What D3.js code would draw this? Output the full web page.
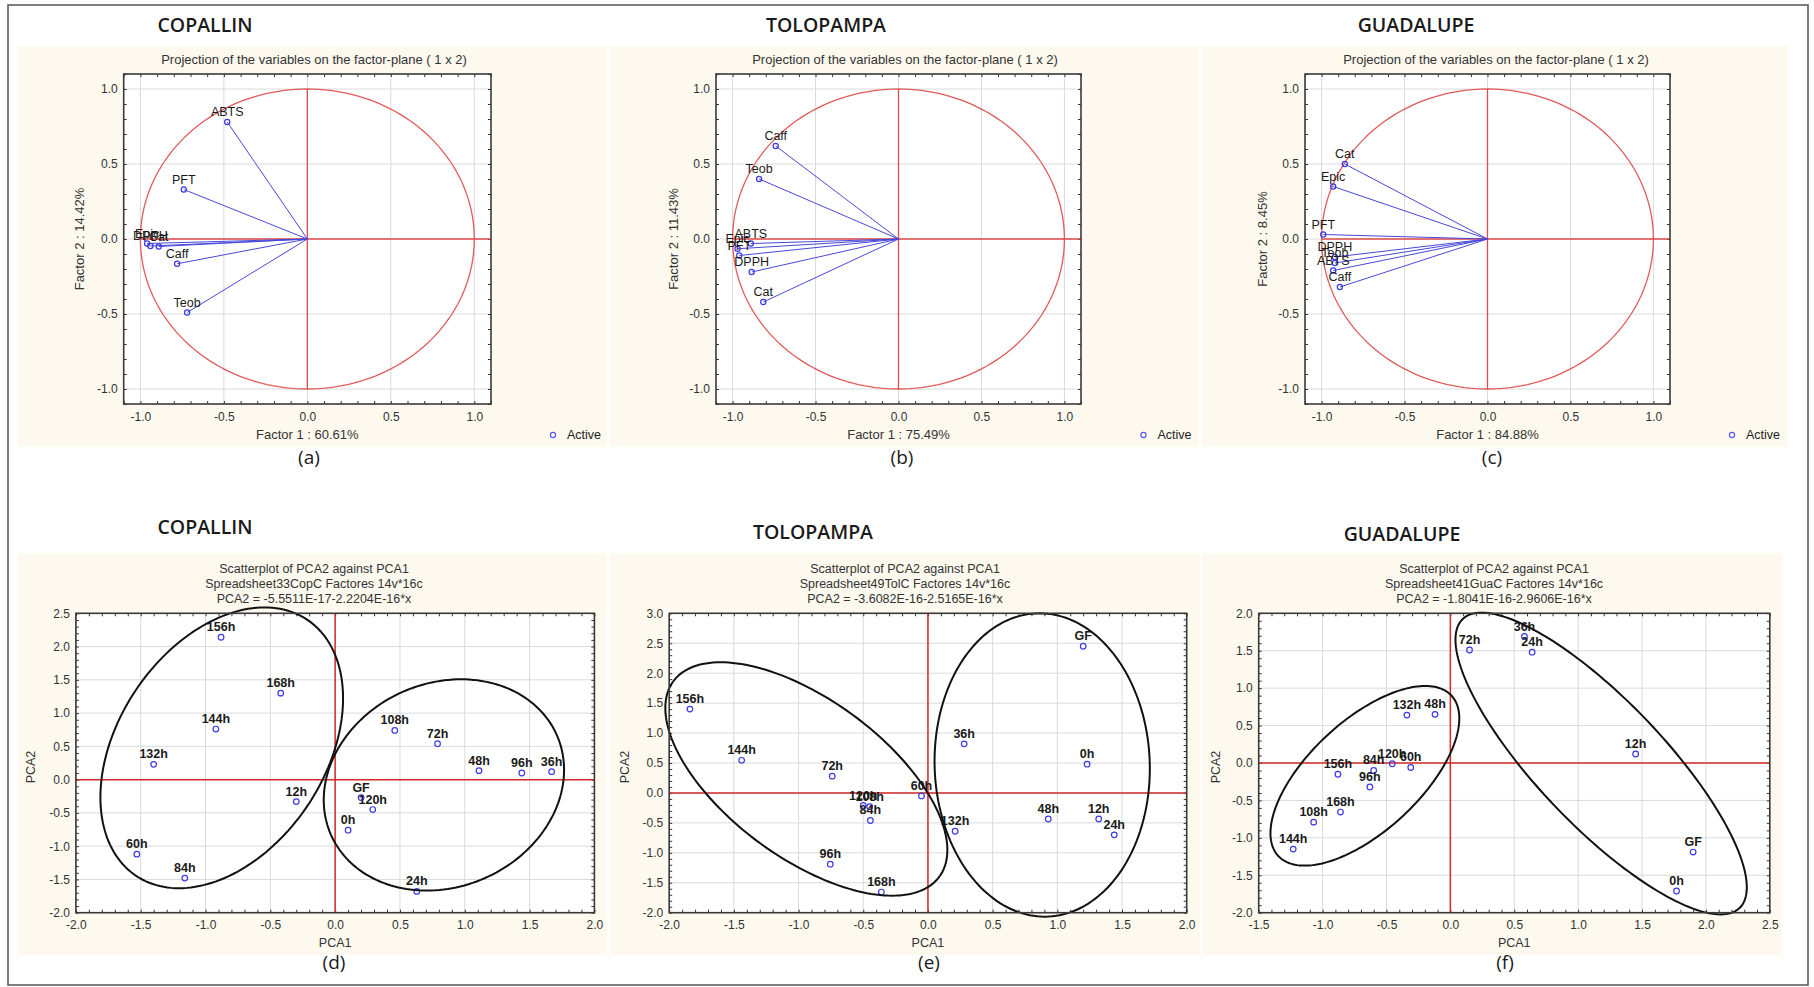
<!DOCTYPE html>
<html>
<head>
<meta charset="utf-8">
<script src="https://cdn.jsdelivr.net/npm/d3@7"></script>
<style>
body { margin: 0; background: #fff; }
svg { display: block; font-family: "Liberation Sans", Arial, sans-serif; }
</style>
</head>
<body>
<svg id="fig" width="1814" height="987"></svg>
<script>
// ---- loadings (projection of the variables on the factor-plane) ----
const copVars = ["ABTS", "PFT", "Epic", "DPPH", "Cat", "Caff", "Teob"];
const copF1 = [-0.48, -0.74, -0.96, -0.94, -0.89, -0.78, -0.72];
const copF2 = [0.78, 0.33, -0.03, -0.047, -0.05, -0.165, -0.49];

const tolVars = ["Caff", "Teob", "ABTS", "Epic", "PFT", "DPPH", "Cat"];
const tolF1 = [-0.74, -0.84, -0.89, -0.97, -0.96, -0.885, -0.815];
const tolF2 = [0.62, 0.40, -0.03, -0.065, -0.11, -0.22, -0.42];

const guaVars = ["Cat", "Epic", "PFT", "DPPH", "Teob", "ABTS", "Caff"];
const guaF1 = [-0.86, -0.93, -0.99, -0.92, -0.92, -0.93, -0.89];
const guaF2 = [0.50, 0.35, 0.03, -0.12, -0.16, -0.21, -0.32];

const loadTicks = [-1.0, -0.5, 0.0, 0.5, 1.0];

// ---- scores (scatterplot of PCA2 against PCA1) ----
const samples = ["0h", "12h", "24h", "36h", "48h", "60h", "72h", "84h", "96h", "108h", "120h", "132h", "144h", "156h", "168h", "GF"];

const copPCA1 = [0.10, -0.30, 0.63, 1.67, 1.11, -1.53, 0.79, -1.16, 1.44, 0.46, 0.29, -1.40, -0.92, -0.88, -0.42, 0.20];
const copPCA2 = [-0.76, -0.33, -1.68, 0.12, 0.135, -1.12, 0.54, -1.48, 0.10, 0.74, -0.45, 0.23, 0.76, 2.14, 1.30, -0.27];

const tolPCA1 = [1.23, 1.32, 1.44, 0.28, 0.93, -0.05, -0.74, -0.445, -0.755, -0.45, -0.50, 0.21, -1.44, -1.84, -0.36, 1.20];
const tolPCA2 = [0.48, -0.435, -0.70, 0.82, -0.435, -0.05, 0.28, -0.46, -1.19, -0.23, -0.21, -0.64, 0.545, 1.40, -1.655, 2.45];

const guaPCA1 = [1.77, 1.45, 0.64, 0.58, -0.12, -0.31, 0.15, -0.60, -0.63, -1.07, -0.455, -0.34, -1.23, -0.88, -0.86, 1.90];
const guaPCA2 = [-1.71, 0.12, 1.48, 1.69, 0.65, -0.06, 1.51, -0.10, -0.32, -0.79, -0.01, 0.64, -1.15, -0.15, -0.655, -1.19];

// cluster ellipses: [centre x, centre y, half width, half height, x-shift of top point]
const copEllipses = [[-0.875, 0.478, 0.936, 2.11, 0.33], [0.839, -0.08, 0.927, 1.588, 0.132]];
const tolEllipses = [[-0.94, 0.233, 1.09, 1.949, -0.663], [0.883, 0.467, 0.832, 2.533, -0.02]];
const guaEllipses = [[-0.669, -0.171, 0.739, 1.20, 0.472], [1.18, -0.007, 1.14, 2.016, -0.935]];

const svg = d3.select("#fig");
const fmt = d => d.toFixed(1);
const cream = "#fdf9ee";

// outer border
svg.append("rect").attr("x", 8).attr("y", 5).attr("width", 1800).attr("height", 980)
	.attr("fill", "none").attr("stroke", "#555").attr("stroke-width", 1.5);

function frameAndTicks(g, x, y, xTicks, yTicks, xMinor, yMinor) {
	const [x0, x1] = x.range();
	const [y1, y0] = y.range();

	// grid
	g.append("g").selectAll("line").data(xTicks).join("line")
		.attr("x1", d => x(d)).attr("x2", d => x(d)).attr("y1", y0).attr("y2", y1)
		.attr("stroke", "#dadada").attr("stroke-width", 1);
	g.append("g").selectAll("line").data(yTicks).join("line")
		.attr("y1", d => y(d)).attr("y2", d => y(d)).attr("x1", x0).attr("x2", x1)
		.attr("stroke", "#dadada").attr("stroke-width", 1);

	// inner minor ticks on all sides
	const minor = (axis, tr) => {
		const a = g.append("g").attr("transform", tr).call(axis);
		a.select(".domain").remove();
		a.selectAll("line").attr("stroke", "#333");
	};
	minor(d3.axisBottom(x).tickValues(xMinor).tickSize(-3).tickFormat(""), `translate(0,${y1})`);
	minor(d3.axisTop(x).tickValues(xMinor).tickSize(-3).tickFormat(""), `translate(0,${y0})`);
	minor(d3.axisLeft(y).tickValues(yMinor).tickSize(-3).tickFormat(""), `translate(${x0},0)`);
	minor(d3.axisRight(y).tickValues(yMinor).tickSize(-3).tickFormat(""), `translate(${x1},0)`);

	// tick labels
	const lab = (axis, tr) => {
		const a = g.append("g").attr("transform", tr).call(axis);
		a.select(".domain").remove();
		a.selectAll("line").remove();
		a.selectAll("text").attr("font-size", 12).attr("fill", "#333")
			.attr("font-family", "Liberation Sans, Arial, sans-serif");
	};
	lab(d3.axisBottom(x).tickValues(xTicks).tickSize(0).tickPadding(8).tickFormat(fmt), `translate(0,${y1})`);
	lab(d3.axisLeft(y).tickValues(yTicks).tickSize(0).tickPadding(6).tickFormat(fmt), `translate(${x0},0)`);
}

function frameRect(g, x, y) {
	const [x0, x1] = x.range();
	const [y1, y0] = y.range();
	g.append("rect").attr("x", x0).attr("y", y0).attr("width", x1 - x0).attr("height", y1 - y0)
		.attr("fill", "none").attr("stroke", "#3a3a3a").attr("stroke-width", 1.6);
}

function drawLoadings(p) {
	const g = svg.append("g");
	g.append("rect").attr("x", p.creamX[0]).attr("y", 46).attr("width", p.creamX[1] - p.creamX[0]).attr("height", 401)
		.attr("fill", cream);
	g.append("text").attr("x", p.titleX).attr("y", 32).attr("text-anchor", "middle")
		.attr("font-family", "Open Sans, sans-serif").attr("font-weight", 600).attr("font-size", 19.5)
		.attr("fill", "#1a1a1a").text(p.title);
	g.append("text").attr("x", p.subX).attr("y", 64).attr("text-anchor", "middle")
		.attr("font-size", 13).attr("fill", "#333")
		.text("Projection of the variables on the factor-plane (  1 x   2)");

	const x = d3.scaleLinear().domain([-1.1, 1.1]).range(p.frameX);
	const y = d3.scaleLinear().domain([-1.1, 1.1]).range([404, 74]);
	g.append("rect").attr("x", p.frameX[0]).attr("y", 74).attr("width", p.frameX[1] - p.frameX[0]).attr("height", 330)
		.attr("fill", "#fff");
	const minorT = d3.range(-11, 12).map(i => i / 10);
	frameAndTicks(g, x, y, loadTicks, loadTicks, minorT, minorT);

	// unit circle
	const circ = d3.range(0, 361, 2).map(a => [Math.cos(a * Math.PI / 180), Math.sin(a * Math.PI / 180)]);
	g.append("path").datum(circ)
		.attr("d", d3.line().x(d => x(d[0])).y(d => y(d[1])))
		.attr("fill", "none").attr("stroke", "#e05a5a").attr("stroke-width", 1.3);
	g.append("line").attr("x1", x(-1)).attr("x2", x(1.1)).attr("y1", y(0)).attr("y2", y(0))
		.attr("stroke", "#e04a4a").attr("stroke-width", 1.3);
	g.append("line").attr("x1", x(0)).attr("x2", x(0)).attr("y1", y(1)).attr("y2", y(-1))
		.attr("stroke", "#e04a4a").attr("stroke-width", 1.3);

	const pts = p.names.map((n, i) => ({ n: n, a: p.f1[i], b: p.f2[i] }));
	g.append("g").selectAll("line").data(pts).join("line")
		.attr("x1", x(0)).attr("y1", y(0)).attr("x2", d => x(d.a)).attr("y2", d => y(d.b))
		.attr("stroke", "#4848d8").attr("stroke-width", 1);
	g.append("g").selectAll("circle").data(pts).join("circle")
		.attr("cx", d => x(d.a)).attr("cy", d => y(d.b)).attr("r", 2.6)
		.attr("fill", "none").attr("stroke", "#3a3ae6").attr("stroke-width", 1.2);
	g.append("g").selectAll("text").data(pts).join("text")
		.attr("x", d => x(d.a)).attr("y", d => y(d.b) - 6).attr("text-anchor", "middle")
		.attr("font-size", 12.5).attr("fill", "#1a1a1a").text(d => d.n);

	frameRect(g, x, y);

	g.append("text").attr("x", (p.frameX[0] + p.frameX[1]) / 2).attr("y", 439).attr("text-anchor", "middle")
		.attr("font-size", 13).attr("fill", "#333").text(p.xLabel);
	g.append("text").attr("transform", `translate(${p.yLabelX},239) rotate(-90)`).attr("text-anchor", "middle")
		.attr("font-size", 13).attr("fill", "#333").text(p.yLabel);
	g.append("circle").attr("cx", p.activeX).attr("cy", 435).attr("r", 2.6)
		.attr("fill", "none").attr("stroke", "#5a5ae6").attr("stroke-width", 1.2);
	g.append("text").attr("x", p.activeX + 14).attr("y", 439).attr("font-size", 12.5).attr("fill", "#222").text("Active");
	g.append("text").attr("x", p.letterX).attr("y", 464).attr("text-anchor", "middle")
		.attr("font-family", "Open Sans, sans-serif").attr("font-size", 19).attr("fill", "#1a1a1a").text(p.letter);
}

function drawScores(p) {
	const g = svg.append("g");
	g.append("rect").attr("x", p.creamX[0]).attr("y", 553).attr("width", p.creamX[1] - p.creamX[0]).attr("height", 402)
		.attr("fill", cream);
	g.append("text").attr("x", p.titleX).attr("y", p.titleY).attr("text-anchor", "middle")
		.attr("font-family", "Open Sans, sans-serif").attr("font-weight", 600).attr("font-size", 19.5)
		.attr("fill", "#1a1a1a").text(p.title);
	p.sub.forEach((s, i) => {
		g.append("text").attr("x", p.subX).attr("y", 573 + i * 15).attr("text-anchor", "middle")
			.attr("font-size", 12.5).attr("fill", "#333").text(s);
	});

	const x = d3.scaleLinear().domain(p.xDomain).range(p.frameX);
	const y = d3.scaleLinear().domain(p.yDomain).range([912.7, 613.3]);
	g.append("rect").attr("x", p.frameX[0]).attr("y", 613.3).attr("width", p.frameX[1] - p.frameX[0]).attr("height", 299.4)
		.attr("fill", "#fff");
	const xt = d3.range(p.xDomain[0] * 2, p.xDomain[1] * 2 + 1).map(i => i / 2);
	const yt = d3.range(p.yDomain[0] * 2, p.yDomain[1] * 2 + 1).map(i => i / 2);
	const xm = d3.range(p.xDomain[0] * 10, p.xDomain[1] * 10 + 1).map(i => i / 10);
	const ym = d3.range(p.yDomain[0] * 10, p.yDomain[1] * 10 + 1).map(i => i / 10);
	frameAndTicks(g, x, y, xt, yt, xm, ym);

	g.append("line").attr("x1", x(p.xDomain[0])).attr("x2", x(p.xDomain[1])).attr("y1", y(0)).attr("y2", y(0))
		.attr("stroke", "#d42a2a").attr("stroke-width", 1.5);
	g.append("line").attr("x1", x(0)).attr("x2", x(0)).attr("y1", y(p.yDomain[0])).attr("y2", y(p.yDomain[1]))
		.attr("stroke", "#d42a2a").attr("stroke-width", 1.5);

	const pts = samples.map((n, i) => ({ n: n, a: p.pc1[i], b: p.pc2[i] }));
	g.append("g").selectAll("circle").data(pts).join("circle")
		.attr("cx", d => x(d.a)).attr("cy", d => y(d.b)).attr("r", 2.8)
		.attr("fill", "none").attr("stroke", "#3a3ae6").attr("stroke-width", 1.2);
	g.append("g").selectAll("text").data(pts).join("text")
		.attr("x", d => x(d.a)).attr("y", d => y(d.b) - 6).attr("text-anchor", "middle")
		.attr("font-size", 12.5).attr("font-weight", 600).attr("fill", "#1a1a1a").text(d => d.n);

	// ellipses: affine image of a circle defined in data units
	const ell = e => d3.range(0, 361, 2).map(a => {
		const t = a * Math.PI / 180;
		const s = Math.sqrt(e[2] * e[2] - e[4] * e[4]);
		return [e[0] + e[4] * Math.sin(t) + s * Math.cos(t), e[1] + e[3] * Math.sin(t)];
	});
	g.append("g").selectAll("path").data(p.ellipses).join("path")
		.attr("d", e => d3.line().x(d => x(d[0])).y(d => y(d[1]))(ell(e)) + "Z")
		.attr("fill", "none").attr("stroke", "#111").attr("stroke-width", 2);

	frameRect(g, x, y);

	g.append("text").attr("x", (p.frameX[0] + p.frameX[1]) / 2).attr("y", 947).attr("text-anchor", "middle")
		.attr("font-size", 12.5).attr("fill", "#333").text("PCA1");
	g.append("text").attr("transform", `translate(${p.yLabelX},767) rotate(-90)`).attr("text-anchor", "middle")
		.attr("font-size", 12.5).attr("fill", "#333").text("PCA2");
	g.append("text").attr("x", p.letterX).attr("y", 969).attr("text-anchor", "middle")
		.attr("font-family", "Open Sans, sans-serif").attr("font-size", 19).attr("fill", "#1a1a1a").text(p.letter);
}

drawLoadings({ title: "COPALLIN", titleX: 205, subX: 314, creamX: [18, 607], frameX: [123.7, 491],
	names: copVars, f1: copF1, f2: copF2, xLabel: "Factor 1 : 60.61%", yLabel: "Factor 2 : 14.42%",
	yLabelX: 84, activeX: 553, letter: "(a)", letterX: 309 });
drawLoadings({ title: "TOLOPAMPA", titleX: 826, subX: 905, creamX: [610, 1199], frameX: [716, 1081],
	names: tolVars, f1: tolF1, f2: tolF2, xLabel: "Factor 1 : 75.49%", yLabel: "Factor 2 : 11.43%",
	yLabelX: 678, activeX: 1143.5, letter: "(b)", letterX: 902 });
drawLoadings({ title: "GUADALUPE", titleX: 1416, subX: 1496, creamX: [1202, 1788], frameX: [1305, 1670],
	names: guaVars, f1: guaF1, f2: guaF2, xLabel: "Factor 1 : 84.88%", yLabel: "Factor 2 :  8.45%",
	yLabelX: 1267, activeX: 1732, letter: "(c)", letterX: 1492 });

drawScores({ title: "COPALLIN", titleX: 205, titleY: 534, subX: 314, creamX: [18, 607], frameX: [75.9, 594.4],
	xDomain: [-2, 2], yDomain: [-2, 2.5], pc1: copPCA1, pc2: copPCA2, ellipses: copEllipses,
	sub: ["Scatterplot of PCA2 against PCA1", "Spreadsheet33CopC Factores 14v*16c", "PCA2 = -5.5511E-17-2.2204E-16*x"],
	yLabelX: 35, letter: "(d)", letterX: 334 });
drawScores({ title: "TOLOPAMPA", titleX: 813, titleY: 539, subX: 905, creamX: [610, 1200], frameX: [669.2, 1186.7],
	xDomain: [-2, 2], yDomain: [-2, 3], pc1: tolPCA1, pc2: tolPCA2, ellipses: tolEllipses,
	sub: ["Scatterplot of PCA2 against PCA1", "Spreadsheet49TolC Factores 14v*16c", "PCA2 = -3.6082E-16-2.5165E-16*x"],
	yLabelX: 629, letter: "(e)", letterX: 929 });
drawScores({ title: "GUADALUPE", titleX: 1402, titleY: 541, subX: 1494, creamX: [1202, 1782], frameX: [1258.7, 1769.8],
	xDomain: [-1.5, 2.5], yDomain: [-2, 2], pc1: guaPCA1, pc2: guaPCA2, ellipses: guaEllipses,
	sub: ["Scatterplot of PCA2 against PCA1", "Spreadsheet41GuaC Factores 14v*16c", "PCA2 = -1.8041E-16-2.9606E-16*x"],
	yLabelX: 1220, letter: "(f)", letterX: 1505 });
</script>
</body>
</html>
